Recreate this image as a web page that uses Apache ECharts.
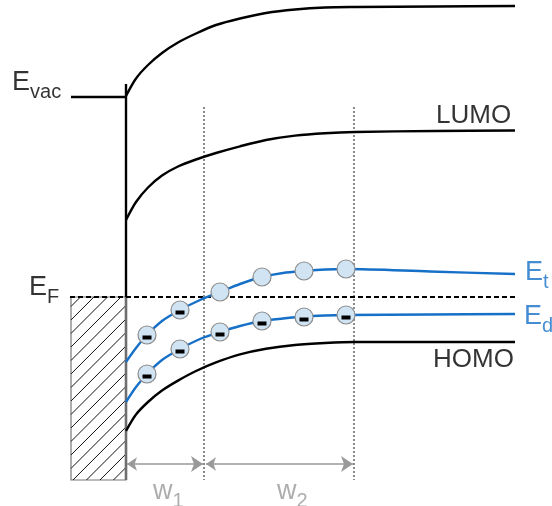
<!DOCTYPE html>
<html>
<head>
<meta charset="utf-8">
<script src="https://cdn.jsdelivr.net/npm/echarts@6/dist/echarts.min.js"></script>
<style>
html,body{margin:0;padding:0;background:#fff;}
#chart{width:552px;height:506px;}
</style>
</head>
<body>
<div id="chart"></div>
<script>
// Diagram coordinates: x to the right, y downward (energy increases upward)
const vacCurve = [[126,96],[136,78.5],[148,65],[162,53],[178,42.5],[196,33.5],[216,25],[240,18.5],[266,13],[295,9.5],[325,7.5],[355,7],[435,6.5],[515,6]];
const evacLevel = [[71,97],[126,97]];
const interfaceLine = [[126,84],[126,297]];
const lumoCurve = [[126,220],[136,202],[148,187.5],[162,175.5],[178,166.5],[196,159.5],[216,153],[240,146.3],[266,140],[295,135.6],[325,133.2],[355,132],[435,131],[515,130.5]];
const homoCurve = [[126,431],[136,414.5],[148,402],[162,390.5],[178,380.6],[196,371],[216,362.4],[240,354.4],[266,348.8],[295,345],[325,343],[355,342],[435,342],[515,342]];
const fermiLevel = [[70,297],[515,297]];
const etCurve = [[126,362],[136,348],[147,335],[162,321],[180,310],[200,300],[220,292],[240,284],[262,277],[283,273],[304,271],[325,269.5],[346,269],[430,271.5],[515,274]];
const edCurve = [[126,402],[136,387],[147,374],[162,360],[180,349],[200,339],[220,332],[240,326],[262,321],[283,318.5],[304,316.5],[325,315.5],[346,315],[430,314.5],[515,314]];
const trapX = [147,180,220,262,304,346];
const etTrapY = [335,310,292,277,271,269];
const edTrapY = [374,349,332,321,317,315];
const etCharged = [true,true,false,false,false,false];
const dottedX = [204,354];
const dottedTop = 107, dottedBottom = 480;
const widthArrows = [[[127,464],[203,464]],[[206,464],[353,464]]];
const metalBox = [71,297,126,480]; // x0, y0, x1, y1
const labels = [
  {pos:[12,83], text:'{b|E}{s|vac}', color:'#000'},
  {pos:[29,288], text:'{b|E}{s|F}', color:'#000'},
  {pos:[436,116], text:'{n|LUMO}', color:'#000'},
  {pos:[433,360], text:'{n|HOMO}', color:'#000'},
  {pos:[525,273], text:'{b|E}{s|t}', color:'#1670c8'},
  {pos:[524,317], text:'{b|E}{s|d}', color:'#1670c8'},
  {pos:[153,492], text:'{b|w}{s|1}', color:'#999'},
  {pos:[277,492], text:'{b|w}{s|2}', color:'#999'}
];

const BLUE = '#1670c8';
const FONT = '"Liberation Sans", Arial, sans-serif';

function lineSeries(data, color, width, type, z) {
  return {type:'line', data:data, smooth:0.3, symbol:'none', silent:true, z:z||2,
    lineStyle:{color:color, width:width, type:type||'solid'}, animation:false};
}

const series = [];
// metal hatched box
series.push({
  type:'custom', coordinateSystem:'cartesian2d', silent:true, z:1, animation:false,
  data:[metalBox],
  renderItem:function(params, api){
    const p0 = api.coord([api.value(0), api.value(1)]);
    const p1 = api.coord([api.value(2), api.value(3)]);
    const x0 = Math.min(p0[0],p1[0]), x1 = Math.max(p0[0],p1[0]);
    const y0 = Math.min(p0[1],p1[1]), y1 = Math.max(p0[1],p1[1]);
    const children = [{type:'rect', shape:{x:x0,y:y0,width:x1-x0,height:y1-y0}, style:{fill:'#fff', stroke:'#777', lineWidth:1.2}}];
    const step = 13.5;
    for (let c = x0 + y0 + step*0.7; c < x1 + y1; c += step) {
      const xa = Math.max(x0, c - y1), xb = Math.min(x1, c - y0);
      if (xb <= xa) continue;
      children.push({type:'line', shape:{x1:xa, y1:c-xa, x2:xb, y2:c-xb}, style:{stroke:'#111', lineWidth:1}});
    }
    children.push({type:'line', shape:{x1:x1, y1:y0, x2:x1, y2:y1}, style:{stroke:'#6e6e6e', lineWidth:2.6}});
    return {type:'group', children:children};
  }
});
// dotted verticals
dottedX.forEach(function(x){
  series.push({type:'line', data:[[x,dottedTop],[x,dottedBottom]], symbol:'none', silent:true, z:1, animation:false,
    lineStyle:{color:'#8a8a8a', width:2, type:[2,2]}});
});
series.push(lineSeries(vacCurve,'#000',2.4));
series.push({type:'line', data:evacLevel, symbol:'none', silent:true, animation:false, lineStyle:{color:'#000', width:2.4}});
series.push({type:'line', data:interfaceLine, symbol:'none', silent:true, animation:false, z:3, lineStyle:{color:'#000', width:2.4}});
series.push(lineSeries(lumoCurve,'#000',2.4));
series.push(lineSeries(homoCurve,'#000',2.4));
series.push({type:'line', data:fermiLevel, symbol:'none', silent:true, animation:false, z:2, lineStyle:{color:'#000', width:2.2, type:[5,3]}});
series.push(lineSeries(etCurve,BLUE,2.4));
series.push(lineSeries(edCurve,BLUE,2.4));
// traps
const trapPts = [];
trapX.forEach(function(x,i){ trapPts.push([x, etTrapY[i]]); });
trapX.forEach(function(x,i){ trapPts.push([x, edTrapY[i]]); });
series.push({type:'scatter', data:trapPts, symbol:'circle', symbolSize:18, silent:true, z:5, animation:false,
  itemStyle:{color:'#d0e4f3', borderColor:'#8c8c8c', borderWidth:1.2, opacity:1}});
const minusPts = [];
trapX.forEach(function(x,i){ if (etCharged[i]) minusPts.push([x, etTrapY[i]]); });
trapX.forEach(function(x,i){ minusPts.push([x, edTrapY[i]]); });
series.push({type:'scatter', data:minusPts, symbol:'rect', symbolSize:[9,4], symbolOffset:[0,2.5], silent:true, z:6, animation:false,
  itemStyle:{color:'#000', opacity:1}});
// width arrows
series.push({type:'lines', coordinateSystem:'cartesian2d', silent:true, z:3, animation:false,
  symbol:['arrow','arrow'], symbolSize:[10,12],
  lineStyle:{color:'#999', width:1.6, opacity:1, curveness:0},
  data: widthArrows.map(function(c){ return {coords:c}; })});
// text labels
labels.forEach(function(l){
  series.push({type:'scatter', data:[l.pos], symbolSize:0, silent:true, z:7, animation:false,
    label:{show:true, position:'inside', formatter:l.text, align:'left', verticalAlign:'middle',
      fontFamily:FONT, color:l.color,
      rich:{
        b:{fontSize:27, lineHeight:28, verticalAlign:'top', fontFamily:FONT, color:l.color},
        s:{fontSize:20, lineHeight:20, padding:[13,0,0,0], verticalAlign:'top', fontFamily:FONT, color:l.color},
        n:{fontSize:26, lineHeight:30, fontFamily:FONT, color:l.color}
      }}});
});

const chart = echarts.init(document.getElementById('chart'), null, {renderer:'canvas'});
chart.setOption({
  backgroundColor:'#fff',
  animation:false,
  grid:{left:0, right:0, top:0, bottom:0},
  xAxis:{type:'value', min:0, max:552, show:false},
  yAxis:{type:'value', min:0, max:506, inverse:true, show:false},
  series:series
});
</script>
</body>
</html>
